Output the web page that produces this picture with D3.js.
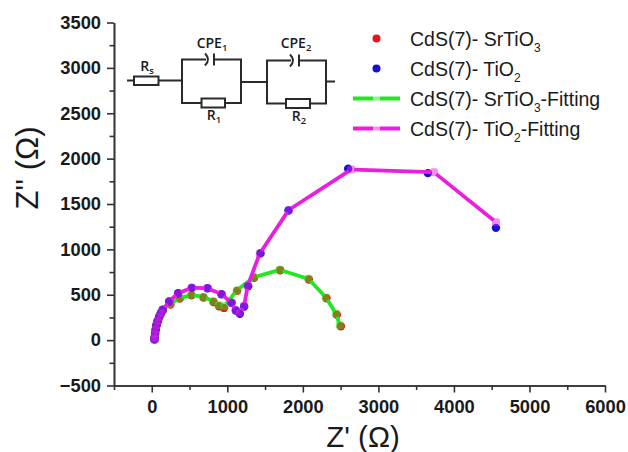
<!DOCTYPE html>
<html>
<head>
<meta charset="utf-8">
<script src="https://cdnjs.cloudflare.com/ajax/libs/d3/7.8.5/d3.min.js"></script>
<style>
  html, body { margin: 0; padding: 0; background: #fff; }
  svg { display: block; }
  text { font-family: "Liberation Sans", Arial, sans-serif; fill: #1a1a1a; }
</style>
</head>
<body>
<script>
// measured impedance, [Z', Z'']
const srTiO3Data = [[36,8],[38,30],[44,70],[52,115],[62,163],[78,208],[97,252],[120,295],[146,330],[247,393],[371,458],[526,493],[685,470],[817,420],[891,374],[957,355],[1130,543],[1355,687],[1700,770],[2080,668],[2313,462],[2450,279],[2503,153]];
const tiO2Data = [[36,8],[38,30],[44,70],[52,115],[62,163],[78,208],[97,252],[120,295],[146,334],[230,425],[349,517],[530,576],[738,572],[923,506],[1056,411],[1113,326],[1166,290],[1223,370],[1276,594],[1440,958],[1810,1428],[2600,1888],[3655,1840],[4556,1237]];

// fitted curves
const srTiO3Fit = [[36,8],[38,30],[44,70],[52,115],[62,163],[78,208],[97,252],[120,295],[146,334],[240,398],[365,462],[520,497],[680,476],[815,428],[888,384],[960,372],[1125,548],[1350,692],[1695,775],[2075,675],[2305,470],[2440,290],[2490,165]];
const tiO2Fit = [[36,8],[38,30],[44,70],[52,115],[62,163],[78,208],[97,252],[120,295],[146,334],[230,425],[349,517],[530,576],[738,572],[923,506],[1056,411],[1113,326],[1166,300],[1223,378],[1270,600],[1430,955],[1815,1435],[2640,1880],[3735,1850],[4556,1300]];

const xTicks = [0, 1000, 2000, 3000, 4000, 5000, 6000];
const xMinorTicks = [-500, 500, 1500, 2500, 3500, 4500, 5500];
const yTicks = [-500, 0, 500, 1000, 1500, 2000, 2500, 3000, 3500];
const yMinorTicks = [-250, 250, 750, 1250, 1750, 2250, 2750, 3250];

const legendLabels = [
  {name: "CdS(7)- SrTiO", sub: "3", rest: "", color: "#e8141c", type: "dot"},
  {name: "CdS(7)- TiO", sub: "2", rest: "", color: "#1410d8", type: "dot"},
  {name: "CdS(7)- SrTiO", sub: "3", rest: "-Fitting", color: "#1fe81f", type: "line"},
  {name: "CdS(7)- TiO", sub: "2", rest: "-Fitting", color: "#e81fe0", type: "line"}
];

const redColor = "#e8141c", blueColor = "#1410d8", greenColor = "#1fe81f", magentaColor = "#e81fe0";
const axisColor = "#333";

let width = 628, height = 452;
let margin = {top: 22.5, right: 23, bottom: 66.5, left: 114};

let svg = d3.select("body")
            .append("svg")
            .attr("width", width)
            .attr("height", height);

let xScale = d3.scaleLinear()
    .domain([-500, 6000])
    .range([margin.left, width - margin.right]);

let yScale = d3.scaleLinear()
    .domain([-500, 3500])
    .range([height - margin.bottom, margin.top]);

// axes: minor ticks first, then the labelled ones
function styleAxis(sel) {
    sel.selectAll("path, line").attr("stroke", axisColor).attr("stroke-width", 1.6);
    sel.selectAll("text")
        .style("font-size", "18.3px")
        .style("font-weight", "bold")
        .attr("fill", "#1a1a1a");
}

let bottom = height - margin.bottom;

svg.append("g")
    .attr("transform", `translate(0,${bottom})`)
    .call(d3.axisBottom(xScale).tickValues(xMinorTicks).tickSize(4.5).tickFormat("").tickSizeOuter(0))
    .call(styleAxis);

svg.append("g")
    .attr("transform", `translate(0,${bottom})`)
    .call(d3.axisBottom(xScale).tickValues(xTicks).tickSize(7).tickPadding(8).tickFormat(d3.format("d")).tickSizeOuter(0))
    .call(styleAxis);

svg.append("g")
    .attr("transform", `translate(${margin.left},0)`)
    .call(d3.axisLeft(yScale).tickValues(yMinorTicks).tickSize(4.5).tickFormat("").tickSizeOuter(0))
    .call(styleAxis);

svg.append("g")
    .attr("transform", `translate(${margin.left},0)`)
    .call(d3.axisLeft(yScale).tickValues(yTicks).tickSize(7).tickPadding(6).tickFormat(d3.format("d")).tickSizeOuter(0))
    .call(styleAxis);

svg.append("text")
    .attr("x", 363)
    .attr("y", 447)
    .attr("text-anchor", "middle")
    .style("font-size", "29.5px")
    .text("Z' (Ω)");

svg.append("text")
    .attr("transform", "translate(37.5,168) rotate(-90)")
    .attr("text-anchor", "middle")
    .style("font-size", "31px")
    .text("Z'' (Ω)");

// fit line leaves a small gap at each symbol
function gapSegments(points, gap) {
    let segs = [];
    d3.pairs(points).forEach(([a, b]) => {
        let x0 = xScale(a[0]), y0 = yScale(a[1]), x1 = xScale(b[0]), y1 = yScale(b[1]);
        let len = Math.hypot(x1 - x0, y1 - y0);
        if (len <= gap * 2) return;
        let ux = (x1 - x0) / len, uy = (y1 - y0) / len;
        segs.push([x0 + ux * gap, y0 + uy * gap, x1 - ux * gap, y1 - uy * gap]);
    });
    return segs;
}

function drawLine(points, color) {
    svg.append("g").selectAll("line")
        .data(gapSegments(points, 3))
        .enter()
        .append("line")
            .attr("x1", d => d[0]).attr("y1", d => d[1])
            .attr("x2", d => d[2]).attr("y2", d => d[3])
            .attr("stroke", color)
            .attr("stroke-width", 3.8);
}

function drawDots(points, color) {
    svg.append("g").selectAll("circle")
        .data(points)
        .enter()
        .append("circle")
            .attr("cx", d => xScale(d[0]))
            .attr("cy", d => yScale(d[1]))
            .attr("r", 4.2)
            .attr("fill", color);
}

// fit symbols are see-through and sit on top of the measured dots
function drawFitSymbols(points, color) {
    svg.append("g").selectAll("rect")
        .data(points)
        .enter()
        .append("rect")
            .attr("x", d => xScale(d[0]) - 4)
            .attr("y", d => yScale(d[1]) - 4)
            .attr("width", 8)
            .attr("height", 8)
            .attr("rx", 2.5)
            .attr("fill", color)
            .attr("opacity", 0.5);
}

drawDots(srTiO3Data, redColor);
drawLine(srTiO3Fit, greenColor);
drawFitSymbols(srTiO3Fit, greenColor);

drawDots(tiO2Data, blueColor);
drawLine(tiO2Fit, magentaColor);
drawFitSymbols(tiO2Fit, magentaColor);

// legend
let legend = svg.append("g");
legendLabels.forEach((d, i) => {
    let y = 38.5 + i * 30;
    if (d.type === "dot") {
        legend.append("circle").attr("cx", 376.5).attr("cy", y).attr("r", 4).attr("fill", d.color);
    } else {
        legend.append("line")
            .attr("x1", 353).attr("x2", 400)
            .attr("y1", y).attr("y2", y)
            .attr("stroke", d.color).attr("stroke-width", 3.8);
        legend.append("rect")
            .attr("x", 373).attr("y", y - 3.5)
            .attr("width", 7).attr("height", 7)
            .attr("fill", "#fff").attr("opacity", 0.5);
    }
    let t = legend.append("text")
        .attr("x", 410)
        .attr("y", y + 7)
        .style("font-size", "19.5px");
    t.append("tspan").text(d.name);
    t.append("tspan").attr("dy", 6).style("font-size", "12px").text(d.sub);
    if (d.rest) t.append("tspan").attr("dy", -6).text(d.rest);
});

// equivalent circuit inset
let circuit = svg.append("g")
    .attr("fill", "none")
    .attr("stroke", "#2a2a2a")
    .attr("stroke-width", 2);

circuit.append("path").attr("d",
    "M127,80.5H134M158.5,80.5H182" +
    "M206,59.5H182V103H201.5M225,103H241V59.5H214" +
    "M241,82H267" +
    "M291,60.5H267V103.5H286M310,103.5H326V60.5H299" +
    "M326,81.5H335");
circuit.append("rect").attr("x", 134).attr("y", 76.5).attr("width", 24.5).attr("height", 8.5);
circuit.append("rect").attr("x", 201.5).attr("y", 98.5).attr("width", 23.5).attr("height", 9);
circuit.append("rect").attr("x", 286).attr("y", 99).attr("width", 24).attr("height", 9);
// capacitor plates
circuit.append("path").attr("d", "M205,53.5Q211,59.5 205,65.5M214,53.5V65.5");
circuit.append("path").attr("d", "M290,54.5Q296,60.5 290,66.5M299,54.5V66.5");

function circuitLabel(x, y, main, sub) {
    let t = svg.append("text")
        .attr("x", x)
        .attr("y", y)
        .attr("text-anchor", "middle")
        .style("font-family", "'Open Sans', sans-serif")
        .style("font-size", "14px")
        .style("font-weight", "600");
    t.append("tspan").text(main);
    t.append("tspan").attr("dy", 3).style("font-size", "9.5px").text(sub);
}

circuitLabel(147, 71, "R", "s");
circuitLabel(212, 48, "CPE", "1");
circuitLabel(296, 48, "CPE", "2");
circuitLabel(214, 120, "R", "1");
circuitLabel(299, 121, "R", "2");
</script>
</body>
</html>
